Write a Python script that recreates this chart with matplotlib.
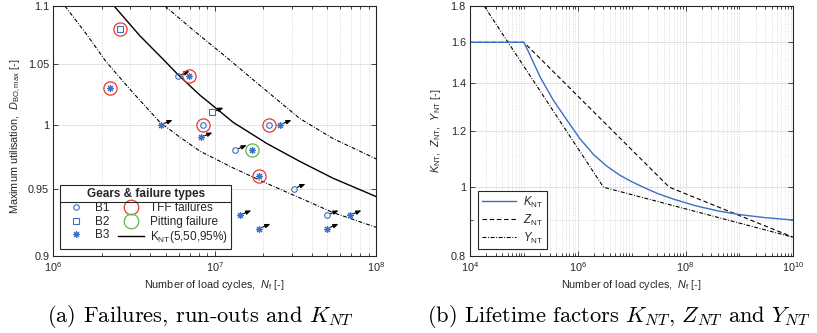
import numpy as np
import matplotlib
matplotlib.use('Agg')
import matplotlib.pyplot as plt
from matplotlib.lines import Line2D
from matplotlib.ticker import FixedLocator, FixedFormatter, NullFormatter, NullLocator, LogLocator
from matplotlib.transforms import offset_copy

plt.rcParams['font.family'] = ['Liberation Sans', 'DejaVu Sans']
plt.rcParams['mathtext.fontset'] = 'custom'
plt.rcParams['mathtext.rm'] = 'Liberation Sans'
plt.rcParams['mathtext.it'] = 'Liberation Sans:italic'
plt.rcParams['mathtext.bf'] = 'Liberation Sans:bold'

# ---------------- data: panel (a) ----------------
b1_N = [5.93e6, 8.47e6, 1.34e7, 2.17e7, 3.10e7, 4.97e7]
b1_D = [1.04, 1.00, 0.98, 1.00, 0.95, 0.93]
b2_N = [2.59e6, 9.62e6]
b2_D = [1.08, 1.01]
b3_N = [2.24e6, 6.93e6, 4.65e6, 8.22e6, 1.70e7, 2.54e7, 1.88e7, 1.43e7, 1.88e7, 4.97e7, 6.89e7]
b3_D = [1.03, 1.04, 1.00, 0.99, 0.98, 1.00, 0.96, 0.93, 0.92, 0.92, 0.93]
tff_N = [2.59e6, 2.24e6, 6.93e6, 8.47e6, 2.17e7, 1.88e7]
tff_D = [1.08, 1.03, 1.04, 1.00, 1.00, 0.96]
pit_N = [1.70e7]
pit_D = [0.98]
runout_N = [5.93e6, 4.65e6, 9.62e6, 8.22e6, 1.34e7, 2.54e7, 3.10e7, 1.43e7, 1.88e7, 4.97e7, 4.97e7, 6.89e7]
runout_D = [1.04, 1.00, 1.01, 0.99, 0.98, 1.00, 0.95, 0.93, 0.92, 0.93, 0.92, 0.93]

knt50_N = [2.38e6, 3.44e6, 4.79e6, 5.93e6, 8.11e6, 1.05e7, 1.30e7, 2.11e7, 3.37e7, 5.41e7, 1.0e8]
knt50_D = [1.100, 1.074, 1.054, 1.041, 1.024, 1.012, 1.002, 0.985, 0.971, 0.958, 0.944]
knt95_N = [4.92e6, 7.35e6, 1.175e7, 1.91e7, 3.37e7, 5.41e7, 1.0e8]
knt95_D = [1.100, 1.079, 1.056, 1.032, 1.005, 0.989, 0.973]
knt5_N = [1.18e6, 1.594e6, 2.12e6, 3.12e6, 4.58e6, 6.10e6, 8.11e6, 1.297e7, 2.105e7, 3.37e7, 5.40e7, 1.0e8]
knt5_D = [1.100, 1.076, 1.052, 1.026, 1.002, 0.990, 0.979, 0.966, 0.954, 0.943, 0.932, 0.921]

# ---------------- data: panel (b) ----------------
knt_N = [1e4, 1e5, 1.2e5, 2e5, 3.5e5, 6.3e5, 1.1e6, 2e6, 3.5e6, 6e6, 1e7, 1.6e7, 3e7, 6e7,
         1.5e8, 4e8, 1e9, 3e9, 1e10]
knt_V = [1.6, 1.6, 1.555, 1.43, 1.327, 1.243, 1.17, 1.11, 1.07, 1.04, 1.018, 1.001, 0.98, 0.962,
         0.942, 0.926, 0.915, 0.906, 0.899]
znt_N = [1e4, 1e5, 5e7, 1e10]
znt_V = [1.6, 1.6, 1.0, 0.85]
ynt_N = [1e4, 3e6, 1e10]
ynt_V = [1.93, 1.0, 0.85]

left_yticks = [0.9, 0.95, 1.0, 1.05, 1.1]
left_yticklabels = ['0.9', '0.95', '1', '1.05', '1.1']
right_yticks = [0.8, 1.0, 1.2, 1.4, 1.6, 1.8]
right_yticklabels = ['0.8', '1', '1.2', '1.4', '1.6', '1.8']

BLUE = '#3a6fc4'
RED = '#e8372c'
GREEN = '#5cb947'
TXT = '#262626'
FS = 7.8
DASHDOT = (0, (3.5, 1.5, 0.8, 1.5))

fig = plt.figure(figsize=(8.17, 3.33), dpi=100)
W, H = 817.0, 333.0
axA = fig.add_axes([53.3 / W, 1 - 256 / H, 322.7 / W, 250 / H])
axB = fig.add_axes([470 / W, 1 - 256 / H, 323.3 / W, 250 / H])


def style_axes(ax):
    ax.set_axisbelow(True)
    for s in ax.spines.values():
        s.set_color(TXT)
        s.set_linewidth(0.8)
    ax.tick_params(which='both', direction='in', top=True, right=True,
                   colors=TXT, labelsize=FS, width=0.6)
    ax.tick_params(which='major', length=3.5, pad=3)
    ax.tick_params(which='minor', length=2)
    ax.grid(True, which='major', color='#dedede', lw=0.6, ls='-')


# ---------------- panel (a) ----------------
ax = axA
ax.set_xscale('log')
ax.set_yscale('log')
ax.set_xlim(1e6, 1e8)
ax.set_ylim(0.9, 1.1)
style_axes(ax)
ax.xaxis.set_minor_locator(LogLocator(base=10, subs=np.arange(2, 10)))
ax.xaxis.set_minor_formatter(NullFormatter())
ax.grid(True, which='minor', axis='x', color='#c9c9c9', lw=0.5, ls=':')
ax.yaxis.set_major_locator(FixedLocator(left_yticks))
ax.yaxis.set_major_formatter(FixedFormatter(left_yticklabels))
ax.yaxis.set_minor_locator(NullLocator())

ax.plot(knt5_N, knt5_D, color='k', lw=0.8, ls=DASHDOT)
ax.plot(knt95_N, knt95_D, color='k', lw=0.8, ls=DASHDOT)
ax.plot(knt50_N, knt50_D, color='k', lw=1.0, ls='-')

for n, d in zip(runout_N, runout_D):
    ax.annotate('', xy=(n, d),
                xycoords=offset_copy(ax.transData, fig=fig, x=11.5, y=4.7, units='dots'),
                xytext=(-8, -3.3), textcoords='offset pixels',
                arrowprops=dict(arrowstyle='-|>,head_length=0.3,head_width=0.12',
                                lw=0.8, color='k', shrinkA=0, shrinkB=0),
                zorder=1.5)

ax.plot(b1_N, b1_D, ls='none', marker='o', ms=4.0, mfc='none', mec=BLUE, mew=0.8, zorder=3)
ax.plot(b2_N, b2_D, ls='none', marker='s', ms=3.8, mfc='none', mec=BLUE, mew=0.8, zorder=3)
ax.plot(b3_N, b3_D, ls='none', marker=(8, 2, 0), ms=5.0, mfc='none', mec=BLUE, mew=0.8, zorder=3)
ax.plot(tff_N, tff_D, ls='none', marker='o', ms=9.5, mfc='none', mec=RED, mew=0.9, zorder=3)
ax.plot(pit_N, pit_D, ls='none', marker='o', ms=9.5, mfc='none', mec=GREEN, mew=0.9, zorder=3)

ax.set_xlabel('Number of load cycles,  $N_{\\mathrm{f}}$ [-]', fontsize=FS, color=TXT, labelpad=3)
ax.set_ylabel('Maximum utilisation,  $D_{\\mathrm{BO,max}}$ [-]', fontsize=FS, color=TXT)
ax.yaxis.set_label_coords(-0.095, 0.48)

handles = [
    Line2D([], [], ls='none', marker='o', ms=4.0, mfc='none', mec=BLUE, mew=0.8),
    Line2D([], [], ls='none', marker='s', ms=3.8, mfc='none', mec=BLUE, mew=0.8),
    Line2D([], [], ls='none', marker=(8, 2, 0), ms=5.0, mfc='none', mec=BLUE, mew=0.8),
    Line2D([], [], ls='none', marker='o', ms=10.5, mfc='none', mec=RED, mew=0.9),
    Line2D([], [], ls='none', marker='o', ms=10.5, mfc='none', mec=GREEN, mew=0.9),
    Line2D([], [], color='k', lw=1.0),
]
labels = ['B1', 'B2', 'B3', 'TFF failures', 'Pitting failure', 'K$_{\\mathrm{NT}}$(5,50,95%)']
legA = ax.legend(handles, labels, ncol=2, loc='lower left', bbox_to_anchor=(0.02, 0.028),
                 borderaxespad=0, fontsize=8.5, title='Gears & failure types',
                 title_fontproperties={'weight': 'bold', 'size': 8.5},
                 frameon=True, fancybox=False, edgecolor=TXT, framealpha=1,
                 handlelength=2.2, handletextpad=0.5, columnspacing=0.7,
                 labelspacing=0.15, borderpad=0.3)
legA.set_zorder(5)
legA.get_frame().set_linewidth(0.8)
for t in legA.get_texts():
    t.set_color(TXT)
legA.get_title().set_color(TXT)

# ---------------- panel (b) ----------------
ax = axB
ax.set_xscale('log')
ax.set_yscale('log')
ax.set_xlim(1e4, 1e10)
ax.set_ylim(0.8, 1.8)
style_axes(ax)
ax.xaxis.set_major_locator(FixedLocator([1e4, 1e6, 1e8, 1e10]))
ax.xaxis.set_minor_locator(LogLocator(base=10, subs=np.arange(1, 10), numticks=50))
ax.xaxis.set_minor_formatter(NullFormatter())
ax.yaxis.set_major_locator(FixedLocator(right_yticks))
ax.yaxis.set_major_formatter(FixedFormatter(right_yticklabels))
ax.yaxis.set_minor_locator(FixedLocator([0.9]))
ax.yaxis.set_minor_formatter(NullFormatter())
ax.grid(True, which='minor', color='#c9c9c9', lw=0.5, ls=':')

ax.plot(ynt_N, ynt_V, color='k', lw=0.8, ls=DASHDOT, label='$Y_{\\mathrm{NT}}$')
ax.plot(znt_N, znt_V, color='k', lw=0.8, ls=(0, (4, 2.5)), label='$Z_{\\mathrm{NT}}$')
ax.plot(knt_N, knt_V, color=BLUE, lw=1.0, ls='-', label='$K_{\\mathrm{NT}}$')

ax.set_xlabel('Number of load cycles,  $N_{\\mathrm{f}}$ [-]', fontsize=FS, color=TXT, labelpad=3)
ax.set_ylabel('$K_{\\mathrm{NT}}$,  $Z_{\\mathrm{NT}}$,  $Y_{\\mathrm{NT}}$ [-]', fontsize=FS, color=TXT)
ax.yaxis.set_label_coords(-0.084, 0.5)

h, l = ax.get_legend_handles_labels()
legB = ax.legend(h[::-1], l[::-1], loc='lower left', bbox_to_anchor=(0.025, 0.028),
                 borderaxespad=0, fontsize=8.3, frameon=True, fancybox=False,
                 edgecolor=TXT, framealpha=1, handlelength=3.0, handletextpad=0.6,
                 labelspacing=0.25, borderpad=0.3)
legB.get_frame().set_linewidth(0.8)
for t in legB.get_texts():
    t.set_color(TXT)

# ---------------- captions ----------------
fig.text(200 / W, 1 - 316 / H, '(a) Failures, run-outs and $K_{NT}$', fontfamily='cmr10',
         math_fontfamily='cm', fontsize=16.2, ha='center', va='center', color='k')
fig.text(619 / W, 1 - 316 / H, '(b) Lifetime factors $K_{NT}$, $Z_{NT}$ and $Y_{NT}$',
         fontfamily='cmr10', math_fontfamily='cm', fontsize=16.2, ha='center', va='center', color='k')

# separator line under legend title
fig.canvas.draw()
r = fig.canvas.get_renderer()
fb = legA.get_frame().get_window_extent(r)
tb = legA.get_title().get_window_extent(r)
yline = tb.y0 - 2
inv = fig.transFigure.inverted()
(x0, y0) = inv.transform((fb.x0, yline))
(x1, _) = inv.transform((fb.x1, yline))
fig.add_artist(Line2D([x0, x1], [y0, y0], color=TXT, lw=0.8, transform=fig.transFigure, zorder=10))

fig.savefig('out.png', dpi=100)
